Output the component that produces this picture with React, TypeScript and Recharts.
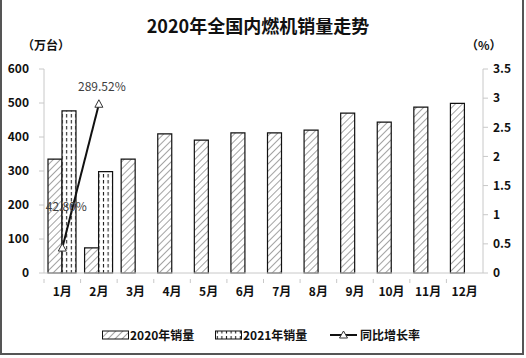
import { ComposedChart, Bar, Line, XAxis, YAxis, LabelList } from 'recharts'

const months = ['1月', '2月', '3月', '4月', '5月', '6月', '7月', '8月', '9月', '10月', '11月', '12月']
const sales2020 = [335, 74, 335, 409, 391, 412, 412, 420, 470, 444, 488, 499]
const sales2021 = [477, 298]
const growth = [0.428, 2.8952]
const growthLabels = ['42.80%', '289.52%']

const leftTicks = [0, 100, 200, 300, 400, 500, 600]
const rightTicks = [0, 0.5, 1, 1.5, 2, 2.5, 3, 3.5]

const data = months.map((m, i) => ({
  month: m,
  s2020: sales2020[i],
  s2021: sales2021[i],
  growth: growth[i],
  label: growthLabels[i],
}))

const FONT = '"Noto Sans CJK SC", "Noto Sans", sans-serif'
const tickStyle = { fontSize: 12, fontWeight: 700, fill: '#111', fontFamily: FONT }
const AXIS = '#c8c8c8'

// label offsets as placed in the source chart
const labelOffsets = [
  { dx: 4, dy: -43 },
  { dx: 3, dy: -19 },
]

function Patterns() {
  return (
    <defs>
      <pattern id="hatch" width="5" height="5" patternUnits="userSpaceOnUse" patternTransform="rotate(45)">
        <rect width="5" height="5" fill="#fff" />
        <line x1="0" y1="0" x2="0" y2="5" stroke="#8c8c8c" strokeWidth="1.6" />
      </pattern>
      <pattern id="dashes" width="4.6" height="6" patternUnits="userSpaceOnUse">
        <rect width="4.6" height="6" fill="#fff" />
        <line x1="2.3" y1="0" x2="2.3" y2="3.5" stroke="#222" strokeWidth="1.1" />
      </pattern>
    </defs>
  )
}

// month label plus the small marks between categories
function MonthTick(props: any) {
  const { x, y, payload, index, visibleTicksCount } = props
  const half = payload.offset || 0
  const axisY = y - 8
  return (
    <g>
      {index === 0 && <line x1={x - half} x2={x - half} y1={axisY} y2={axisY + 4} stroke={AXIS} />}
      {index < visibleTicksCount - 1 && <line x1={x + half} x2={x + half} y1={axisY} y2={axisY + 4} stroke={AXIS} />}
      <text x={x} y={y + 9} textAnchor="middle" {...tickStyle}>
        {payload.value}
      </text>
    </g>
  )
}

function Triangle(props: any) {
  const { cx, cy, index } = props
  if (cx == null || cy == null) return <g key={`t-${index}`} />
  return (
    <path
      key={`t-${index}`}
      d={`M${cx},${cy - 4.5} L${cx + 4},${cy + 3} L${cx - 4},${cy + 3} Z`}
      fill="#fff"
      stroke="#333"
      strokeWidth={1}
    />
  )
}

function GrowthLabel(props: any) {
  const { x, y, value, index } = props
  if (value == null) return null
  const off = labelOffsets[index] || { dx: 0, dy: -12 }
  return (
    <text
      x={x + off.dx}
      y={y + off.dy}
      textAnchor="middle"
      dominantBaseline="central"
      fontSize={12}
      fill="#404040"
      fontFamily={FONT}
    >
      {value}
    </text>
  )
}

function LegendBox({ fill }: { fill: string }) {
  return (
    <svg width={27} height={10} style={{ display: 'block' }}>
      <rect x={0.5} y={1} width={26} height={8} fill={fill} stroke="#111" strokeWidth={1} />
    </svg>
  )
}

const legendText = { position: 'absolute' as const, top: 326, fontSize: 12, fontWeight: 700, color: '#111', lineHeight: '18px' }

export default function App() {
  return (
    <div style={{ position: 'relative', width: 526, height: 358, background: '#fff', fontFamily: FONT }}>
      <style>{`body{margin:0}`}</style>
      <svg width={0} height={0} style={{ position: 'absolute' }}>
        <Patterns />
      </svg>
      <div
        style={{
          position: 'absolute',
          left: 0,
          top: -2,
          width: 520,
          height: 353,
          border: '2px solid #555',
          boxSizing: 'content-box',
        }}
      />
      <div style={{ position: 'absolute', left: 0, width: 516, top: 12, textAlign: 'center', fontSize: 18, fontWeight: 700, color: '#111' }}>
        2020年全国内燃机销量走势
      </div>
      <div style={{ position: 'absolute', left: 22, top: 36, fontSize: 12, fontWeight: 700, color: '#111' }}>（万台）</div>
      <div style={{ position: 'absolute', left: 466, top: 36, fontSize: 12, fontWeight: 700, color: '#111' }}>（%）</div>

      <div style={{ position: 'absolute', left: 0, top: 0 }}>
        <ComposedChart
          width={526}
          height={358}
          data={data}
          margin={{ top: 69, right: 0, bottom: 55, left: 0 }}
          barGap={0}
          barSize={14}
        >
          <XAxis
            dataKey="month"
            tick={<MonthTick />}
            tickLine={false}
            axisLine={{ stroke: AXIS }}
            height={30}
            tickMargin={8}
            interval={0}
          />
          <YAxis
            yAxisId="left"
            domain={[0, 600]}
            ticks={leftTicks}
            tick={tickStyle}
            width={44}
            tickLine={{ stroke: AXIS }}
            axisLine={{ stroke: AXIS }}
            tickSize={5}
            tickMargin={10}
          />
          <YAxis
            yAxisId="right"
            orientation="right"
            domain={[0, 3.5]}
            ticks={rightTicks}
            tick={tickStyle}
            width={43}
            tickLine={{ stroke: AXIS }}
            axisLine={{ stroke: AXIS }}
            tickSize={5}
            tickMargin={5}
          />
          <Bar yAxisId="left" dataKey="s2020" fill="url(#hatch)" stroke="#111" strokeWidth={1.2} isAnimationActive={false} />
          <Bar yAxisId="left" dataKey="s2021" fill="url(#dashes)" stroke="#111" strokeWidth={1.2} isAnimationActive={false} />
          <Line
            yAxisId="right"
            dataKey="growth"
            stroke="#111"
            strokeWidth={2}
            dot={Triangle}
            activeDot={false}
            connectNulls={false}
            isAnimationActive={false}
          >
            <LabelList dataKey="label" content={GrowthLabel} />
          </Line>
        </ComposedChart>
      </div>

      <div style={{ position: 'absolute', left: 102, top: 330 }}>
        <LegendBox fill="url(#hatch)" />
      </div>
      <div style={{ ...legendText, left: 130 }}>2020年销量</div>
      <div style={{ position: 'absolute', left: 215, top: 330 }}>
        <LegendBox fill="url(#dashes)" />
      </div>
      <div style={{ ...legendText, left: 243 }}>2021年销量</div>
      <svg width={27} height={10} style={{ position: 'absolute', left: 330, top: 330 }}>
        <line x1={0} y1={5} x2={27} y2={5} stroke="#111" strokeWidth={2} />
        <path d="M13.5,1 L17.5,8 L9.5,8 Z" fill="#fff" stroke="#333" strokeWidth={1} />
      </svg>
      <div style={{ ...legendText, left: 360 }}>同比增长率</div>
    </div>
  )
}
